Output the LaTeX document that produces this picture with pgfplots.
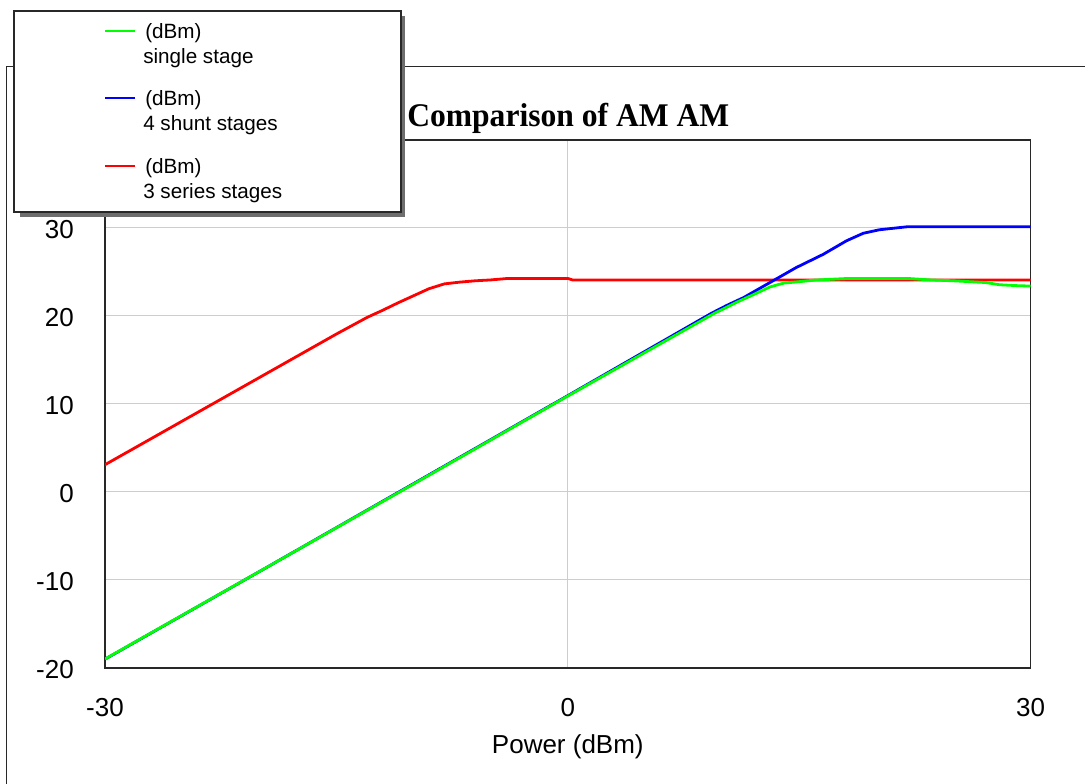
\documentclass[border=0pt]{standalone}
\usepackage{pgfplots}
\pgfplotsset{compat=1.18}
\usepackage{fontspec}
\setmainfont{Liberation Sans}
\newfontfamily\titlefont{Liberation Serif}
\definecolor{gridgray}{RGB}{205,205,205}
\definecolor{framegray}{RGB}{40,40,40}
\definecolor{shadowgray}{RGB}{110,110,110}
\definecolor{cgreen}{RGB}{0,255,0}
\definecolor{cblue}{RGB}{0,0,255}
\definecolor{cred}{RGB}{255,0,0}
\begin{document}
\begin{tikzpicture}
\useasboundingbox (0,0) rectangle (813.75pt,588pt);
% outer panel frame
\draw[framegray, line width=0.75pt] (5.1pt,0pt) -- (5.1pt,538pt) -- (813.75pt,538pt);
\begin{axis}[
  at={(78.75pt,87pt)}, anchor=south west,
  scale only axis, width=694.2pt, height=396pt,
  xmin=-30, xmax=30, ymin=-20, ymax=40,
  xtick={-30,0,30}, xticklabels={-30,0,30},
  ytick={-20,-10,0,10,20,30}, yticklabels={-20,-10,0,10,20,30},
  major tick length=0pt,
  xmajorgrids, ymajorgrids,
  grid style={gridgray, line width=0.75pt},
  axis line style={framegray, line width=0.8pt},
  tick label style={font=\fontsize{19.5}{22}\selectfont, inner sep=0pt},
  xticklabel style={anchor=center, yshift=-30pt},
  yticklabel style={anchor=east, xshift=-23.25pt, yshift=-1.5pt},
  xlabel={Power (dBm)},
  xlabel style={font=\fontsize{19.5}{22}\selectfont, at={(axis description cs:0.5,0)}, anchor=center, yshift=-59.25pt, inner sep=0pt},
  every axis plot/.append style={line width=2.1pt},
]
\addplot[cred] coordinates {
(-30,3.1) (-25,8.05) (-20,13.0) (-15,17.95) (-13,19.85) (-12,20.65) (-11,21.5)
(-10,22.3) (-9,23.1) (-8,23.65) (-7,23.85) (-6,24.0) (-5,24.1) (-4,24.25)
(0,24.27) (0.3,24.1) (30,24.1)
};
\addplot[cblue] coordinates {
(-30,-19.0) (-20,-9.05) (-10,0.95) (0,10.95) (5,15.98) (9.3,20.3) (10.3,21.2)
(11.4,22.1) (12.2,22.9) (13.1,23.8) (14.8,25.5) (16.55,27.0) (18.07,28.55)
(19.15,29.4) (20.2,29.8) (21.1,29.97) (22.06,30.15) (30,30.15)
};
\addplot[cgreen] coordinates {
(-30,-18.98) (-20,-9.05) (-10,0.9) (0,10.9) (5,15.85) (9.5,20.3) (11,21.6)
(12,22.4) (13.1,23.3) (14,23.74) (15,23.9) (16,24.08) (18.2,24.27) (22,24.27)
(23.5,24.1) (25,24.0) (27.1,23.8) (28,23.55) (29.1,23.45) (30,23.4)
};
\end{axis}
% title
\node[anchor=base west, inner sep=0pt, xscale=0.955, font=\titlefont\bfseries\fontsize{24.8}{28}\selectfont] at (305.25pt,492.75pt) {Comparison of AM AM};
% legend box with shadow
\fill[shadowgray] (15pt,576pt) rectangle (303.75pt,425.25pt);
\filldraw[fill=white, draw=framegray, line width=1pt] (10.5pt,579.75pt) rectangle (300.75pt,429pt);
\begin{scope}[font=\fontsize{15.5}{18}\selectfont]
\draw[cgreen, line width=0.9pt] (78.75pt,564.75pt) -- (101.25pt,564.75pt);
\node[anchor=west, inner sep=0pt] at (108.75pt,563.25pt) {(dBm)};
\node[anchor=base west, inner sep=0pt] at (107.25pt,540pt) {single stage};
\draw[cblue, line width=0.9pt] (78.75pt,514.5pt) -- (101.25pt,514.5pt);
\node[anchor=west, inner sep=0pt] at (108.75pt,513pt) {(dBm)};
\node[anchor=base west, inner sep=0pt] at (107.25pt,489.75pt) {4 shunt stages};
\draw[cred, line width=0.9pt] (78.75pt,463.5pt) -- (101.25pt,463.5pt);
\node[anchor=west, inner sep=0pt] at (108.75pt,462pt) {(dBm)};
\node[anchor=base west, inner sep=0pt] at (107.25pt,439pt) {3 series stages};
\end{scope}
\end{tikzpicture}
\end{document}
